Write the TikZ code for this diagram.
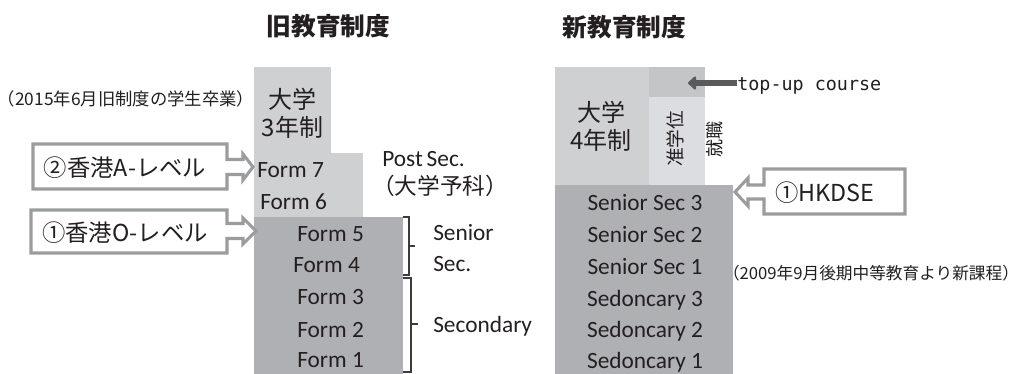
\documentclass[tikz,border=0pt]{standalone}
\usepackage{fontspec}
\setmainfont{Carlito}
\newfontfamily\cjk{Noto Sans CJK JP}
\newfontfamily\mono{DejaVu Sans Mono}
\usetikzlibrary{arrows.meta}
\definecolor{lgray}{HTML}{CFD0D2}
\definecolor{dgray}{HTML}{AFB0B3}
\definecolor{topgray}{HTML}{C4C5C7}
\definecolor{vlgray}{HTML}{DCDDE0}
\definecolor{bordergray}{HTML}{9B9C9E}
\definecolor{txt}{HTML}{231F20}
\definecolor{arrowgray}{HTML}{595A5C}
\definecolor{brk}{HTML}{3C3C3C}
\tikzset{
  lbl/.style={inner sep=0pt, text=txt, font=\fontsize{17.5pt}{21pt}\selectfont},
  jp/.style={inner sep=0pt, text=txt, align=center, font=\cjk\fontsize{18pt}{21pt}\selectfont},
  jpsmall/.style={inner sep=0pt, text=txt, font=\cjk\fontsize{13pt}{16pt}\selectfont},
  title/.style={inner sep=0pt, text=txt, font=\cjk\bfseries\fontsize{18.5pt}{22pt}\selectfont},
  callout/.style={draw=bordergray, line width=2.3pt, fill=white, miter limit=4},
  bracketline/.style={draw=brk, line width=1.1pt},
}
\begin{document}
\begin{tikzpicture}[x=0.75pt,y=-0.75pt]
\useasboundingbox (0,0) rectangle (1022,374);
% titles
\node[title] (t1) at (328.5,26) {旧教育制度};
\node[title] (t2) at (624.5,27.5) {新教育制度};
% old system blocks
\fill[lgray] (254,67) rectangle (331,154);
\fill[lgray] (254,153) rectangle (363,218);
\fill[dgray] (254,217) rectangle (403,374);
\node[jp] (uni3) at (292.5,113) {大学\\3年制};
\node[lbl, anchor=base west] (f7) at (257,178) {Form 7};
\node[lbl, anchor=base west] (f6) at (260,210) {Form 6};
\node[lbl, anchor=base west] (f5) at (297,242) {Form 5};
\node[lbl, anchor=base west] (f4) at (293,273) {Form 4};
\node[lbl, anchor=base west] (f3) at (297,305) {Form 3};
\node[lbl, anchor=base west] (f2) at (297,337) {Form 2};
\node[lbl, anchor=base west] (f1) at (297,368) {Form 1};
\node[jpsmall] (grad) at (126,99) {（2015年6月旧制度の学生卒業）};
% post sec labels
\node[lbl, anchor=base west] (post) at (382,167) {Post\,Sec.};
\node[jp, font=\cjk\fontsize{17pt}{20pt}\selectfont] (yoka) at (440,186) {（大学予科）};
\node[lbl, anchor=base west] (sen1) at (433,241) {Senior};
\node[lbl, anchor=base west] (sen2) at (433,272) {Sec.};
\node[lbl, anchor=base west] (sec) at (433,333) {Secondary};
% brackets
\draw[bracketline] (403,217) -- (409,217) -- (409,275) -- (403,275);
\draw[bracketline] (409,246) -- (415,246);
\draw[bracketline] (403,278) -- (411,278) -- (411,372) -- (403,372);
\draw[bracketline] (411,324) -- (418,324);
% callouts old
\draw[callout] (33,144) -- (227,144) -- (227,159.5) -- (243,159.5) -- (243,154) -- (253,167) -- (243,180) -- (243,174.5) -- (227,174.5) -- (227,189) -- (33,189) -- cycle;
\node[jp, font=\cjk\fontsize{17.5pt}{21pt}\selectfont] (alev) at (125,168) {②香港A-レベル};
\draw[callout] (31,210) -- (227,210) -- (227,223.5) -- (243,223.5) -- (243,218) -- (256,231) -- (243,244) -- (243,238.5) -- (227,238.5) -- (227,253) -- (31,253) -- cycle;
\node[jp, font=\cjk\fontsize{17.5pt}{21pt}\selectfont] (olev) at (125,233) {①香港O-レベル};
% new system blocks
\fill[lgray] (555,67) rectangle (649,185);
\fill[topgray] (649,67) rectangle (705,97);
\fill[vlgray] (649,97) rectangle (705,185);
\fill[dgray] (555,185) rectangle (733,374);
\node[jp] (uni4) at (601,126) {大学\\4年制};
\node[jp, font=\cjk\fontsize{14pt}{16pt}\selectfont, rotate=90] (jun) at (675,139) {准学位};
\node[jp, font=\cjk\fontsize{13.5pt}{16pt}\selectfont, rotate=90] (job) at (715,140) {就職};
\node[lbl, anchor=base] (s3) at (645,210.5) {Senior Sec 3};
\node[lbl, anchor=base] (s2) at (645,242.5) {Senior Sec 2};
\node[lbl, anchor=base] (s1) at (645,274.5) {Senior Sec 1};
\node[lbl, anchor=base] (d3) at (645,306) {Sedoncary 3};
\node[lbl, anchor=base] (d2) at (645,337.5) {Sedoncary 2};
\node[lbl, anchor=base] (d1) at (645,368.5) {Sedoncary 1};
% top-up
\node[inner sep=0pt, text=txt, anchor=base west, font=\mono\fontsize{13.8pt}{16pt}\selectfont] (topup) at (737,91) {top-up course};
\coordinate (tutip) at (688,83);
\draw[arrowgray, line width=5pt, -{Triangle[round, length=6.5pt, width=11.5pt]}] (topup.west |- 0,83) -- (tutip);
% HKDSE callout
\draw[callout] (905,169) -- (764,169) -- (764,185) -- (748,185) -- (748,178) -- (735,192) -- (748,206) -- (748,199) -- (764,199) -- (764,214) -- (905,214) -- cycle;
\node[jp, font=\cjk\fontsize{17.5pt}{21pt}\selectfont] (dse) at (825,193) {①HKDSE};
\node[jpsmall, font=\cjk\fontsize{12.5pt}{16pt}\selectfont] (newc) at (871,273) {（2009年9月後期中等教育より新課程）};
\end{tikzpicture}
\end{document}
